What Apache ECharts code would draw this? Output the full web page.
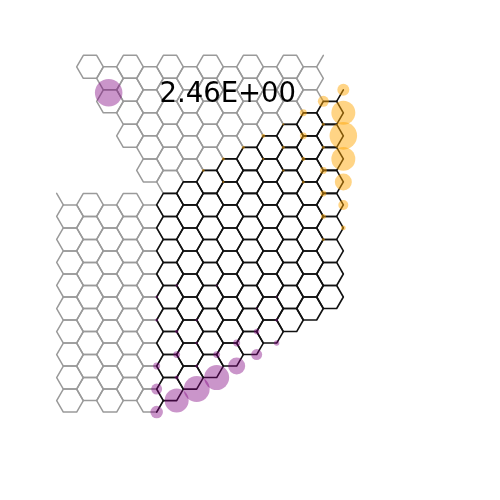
<!DOCTYPE html>
<html><head><meta charset="utf-8">
<script src="https://cdn.jsdelivr.net/npm/echarts@6/dist/echarts.min.js"></script>
<style>html,body{margin:0;padding:0;background:#fff}#c{width:500px;height:500px}</style>
</head><body><div id="c"></div>
<script>
// Honeycomb lattice, flat-top cells. Cell (col c, row k) -> centre X = 3c, Y = 2k (+1 for even c).
// Sites (hexagon corners) sit at (X±2, Y) and (X±1, Y±1).
// Cell columns: [col, firstRow, lastRow]
const topLeadCols = [[1,0,0],[2,0,1],[3,0,3],[4,0,4],[5,0,5],[6,0,4],[7,0,4],[8,0,3],[9,0,3],[10,0,2],[11,0,2],[12,0,1]];
const leftLeadCols = [[0,6,14],[1,6,14],[2,6,14],[3,6,14],[4,6,14]];
const systemCols = [[5,6,14],[6,5,13],[7,5,13],[8,4,12],[9,4,12],[10,3,11],[11,3,11],[12,2,10],[13,2,10]];
// single dangling bonds [X1,Y1,X2,Y2]
const leadStubs = [[-1,12,-2,11],[37,0,38,-1]];
const systemStubs = [[40,3,41,2],[14,29,13,30]];
// site amplitudes [X, Y, value]
const positiveSites = [
  [41,2,1.07],[38,3,0.98],[41,4,2.14],[41,6,2.46],[41,8,2.14],[41,10,1.52],[41,12,0.89],[41,14,0.43],
  [35,4,0.62],[35,6,0.62],[35,8,0.36],[35,10,0.27],
  [38,5,0.27],[38,7,0.27],[38,9,0.62],[38,11,0.54],[38,13,0.45],[38,15,0.27],
  [32,5,0.2],[32,7,0.27],[32,9,0.22],[29,6,0.36],[29,8,0.2],[26,7,0.27],[23,8,0.27],[23,10,0.2],[20,9,0.23]
];
const negativeSites = [
  [13,30,1.12],[16,29,2.14],[19,28,2.32],[22,27,2.23],[25,26,1.52],[28,25,0.98],[31,24,0.48],
  [13,28,0.98],[13,26,0.62],[13,22,0.27],[13,20,0.23],
  [16,27,0.36],[16,25,0.61],[16,23,0.3],[16,19,0.23],
  [19,26,0.27],[19,24,0.23],[19,22,0.23],
  [22,25,0.61],[22,19,0.18],[25,24,0.62],[28,23,0.5],[28,21,0.18],[31,22,0.27],[31,20,0.18]
];
const scaleValue = 2.46;
const scaleLabel = '2.46E+00';
const scaleAt = [5.8, 2.25];

function cellsFrom(cols) {
  const out = [];
  cols.forEach(([c, k0, k1]) => {
    for (let k = k0; k <= k1; k++) out.push([3 * c, 2 * k + (c % 2 === 0 ? 1 : 0)]);
  });
  return out;
}
const hexOffsets = [[2,0],[1,1],[-1,1],[-2,0],[-1,-1],[1,-1]];
function hexRender(color, width) {
  return function (params, api) {
    const X = api.value(0), Y = api.value(1);
    const pts = hexOffsets.map(o => api.coord([X + o[0], Y + o[1]]));
    return {type: 'polygon', silent: true, shape: {points: pts},
      style: {fill: 'none', stroke: color, lineWidth: width, lineJoin: 'round'}};
  };
}
function stubRender(color, width) {
  return function (params, api) {
    const a = api.coord([api.value(0), api.value(1)]);
    const b = api.coord([api.value(2), api.value(3)]);
    return {type: 'line', silent: true, shape: {x1: a[0], y1: a[1], x2: b[0], y2: b[1]},
      style: {stroke: color, lineWidth: width, lineCap: 'round'}};
  };
}
const GRAY = '#9a9a9a', BLACK = '#111111';
const sizeOf = v => v[2] * 11.2;
const Y0 = 66.8, SY = 11.51;

const chart = echarts.init(document.getElementById('c'), null, {renderer: 'canvas'});
chart.setOption({
  animation: false,
  backgroundColor: '#ffffff',
  grid: {left: 0, top: 0, width: 500, height: 500},
  xAxis: {type: 'value', min: -10.5, max: 64.5, show: false},
  yAxis: {type: 'value', inverse: true, min: -Y0 / SY, max: -Y0 / SY + 500 / SY, show: false},
  series: [
    {type: 'custom', data: cellsFrom(topLeadCols).concat(cellsFrom(leftLeadCols)), renderItem: hexRender(GRAY, 1.5), clip: false, z: 1},
    {type: 'custom', data: leadStubs, renderItem: stubRender(GRAY, 1.5), clip: false, z: 1},
    {type: 'custom', data: cellsFrom(systemCols), renderItem: hexRender(BLACK, 1.6), clip: false, z: 2},
    {type: 'custom', data: systemStubs, renderItem: stubRender(BLACK, 1.6), clip: false, z: 2},
    {type: 'scatter', data: positiveSites, symbol: 'circle', symbolSize: sizeOf,
      itemStyle: {color: 'rgba(255,165,0,0.6)'}, z: 3, silent: true},
    {type: 'scatter', data: negativeSites, symbol: 'circle', symbolSize: sizeOf,
      itemStyle: {color: 'rgba(128,0,128,0.52)'}, z: 3, silent: true},
    {type: 'scatter', data: [[scaleAt[0], scaleAt[1], scaleValue]], symbol: 'circle', symbolSize: sizeOf,
      itemStyle: {color: 'rgba(128,0,128,0.52)'}, z: 4, silent: true,
      label: {show: true, position: 'right', distance: 37, offset: [0, 2.5], formatter: scaleLabel,
        fontFamily: 'DejaVu Sans', fontSize: 27.5, color: '#000000', opacity: 1,
        textBorderWidth: 0}}
  ]
});
</script></body></html>
